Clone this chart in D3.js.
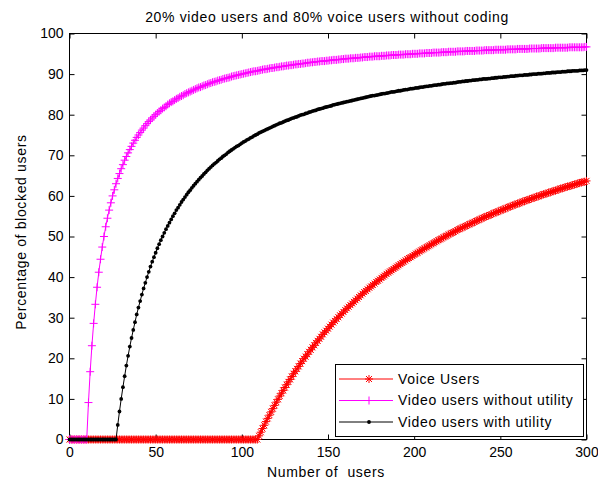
<!DOCTYPE html>
<html>
<head>
<meta charset="utf-8">
<script src="https://cdn.jsdelivr.net/npm/d3@7"></script>
<style>
  html, body { margin: 0; padding: 0; background: #fff; }
  svg { display: block; font-family: "Liberation Sans", Arial, sans-serif; }
  text { fill: #000; }
</style>
</head>
<body>
<svg id="chart" width="598" height="483"></svg>
<script>
// Number of users on the horizontal axis (0 .. 300, step 1)
const users = d3.range(0, 301);

// Blocking percentage, voice users
const voiceUsers = [
  0,0,0,0,0,0,0,0,0,0,
  0,0,0,0,0,0,0,0,0,0,
  0,0,0,0,0,0,0,0,0,0,
  0,0,0,0,0,0,0,0,0,0,
  0,0,0,0,0,0,0,0,0,0,
  0,0,0,0,0,0,0,0,0,0,
  0,0,0,0,0,0,0,0,0,0,
  0,0,0,0,0,0,0,0,0,0,
  0,0,0,0,0,0,0,0,0,0,
  0,0,0,0,0,0,0,0,0,0,
  0,0,0,0,0,0,0,0,0,0,
  0.9,1.8,2.7,3.5,4.4,5.2,6.0,6.8,7.6,8.4,
  9.2,9.9,10.7,11.4,12.1,12.8,13.5,14.2,14.8,15.5,
  16.2,16.8,17.4,18.0,18.7,19.3,19.9,20.4,21.0,21.6,
  22.1,22.7,23.2,23.8,24.3,24.8,25.3,25.9,26.4,26.8,
  27.3,27.8,28.3,28.8,29.2,29.7,30.1,30.6,31.0,31.4,
  31.9,32.3,32.7,33.1,33.5,33.9,34.3,34.7,35.1,35.5,
  35.9,36.3,36.6,37.0,37.4,37.7,38.1,38.4,38.8,39.1,
  39.4,39.8,40.1,40.4,40.8,41.1,41.4,41.7,42.0,42.3,
  42.6,42.9,43.2,43.5,43.8,44.1,44.4,44.7,44.9,45.2,
  45.5,45.8,46.0,46.3,46.6,46.8,47.1,47.3,47.6,47.8,
  48.1,48.3,48.6,48.8,49.1,49.3,49.5,49.8,50.0,50.2,
  50.5,50.7,50.9,51.1,51.3,51.6,51.8,52.0,52.2,52.4,
  52.6,52.8,53.0,53.2,53.4,53.6,53.8,54.0,54.2,54.4,
  54.6,54.8,55.0,55.1,55.3,55.5,55.7,55.9,56.0,56.2,
  56.4,56.6,56.7,56.9,57.1,57.3,57.4,57.6,57.8,57.9,
  58.1,58.2,58.4,58.6,58.7,58.9,59.0,59.2,59.3,59.5,
  59.6,59.8,59.9,60.1,60.2,60.4,60.5,60.6,60.8,60.9,
  61.1,61.2,61.3,61.5,61.6,61.8,61.9,62.0,62.2,62.3,
  62.4,62.5,62.7,62.8,62.9,63.1,63.2,63.3,63.4,63.5,
  63.7
];

// Blocking percentage, video users without utility
const videoWithoutUtility = [
  0,0,0,0,0,0,0,0,0,0,
  0,9.1,16.7,23.1,28.6,33.3,37.5,41.2,44.4,47.4,
  50.0,52.4,54.5,56.5,58.3,60.0,61.5,63.0,64.3,65.5,
  66.7,67.7,68.8,69.7,70.6,71.4,72.2,73.0,73.7,74.4,
  75.0,75.6,76.2,76.7,77.3,77.8,78.3,78.7,79.2,79.6,
  80.0,80.4,80.8,81.1,81.5,81.8,82.1,82.5,82.8,83.1,
  83.3,83.6,83.9,84.1,84.4,84.6,84.8,85.1,85.3,85.5,
  85.7,85.9,86.1,86.3,86.5,86.7,86.8,87.0,87.2,87.3,
  87.5,87.7,87.8,88.0,88.1,88.2,88.4,88.5,88.6,88.8,
  88.9,89.0,89.1,89.2,89.4,89.5,89.6,89.7,89.8,89.9,
  90.0,90.1,90.2,90.3,90.4,90.5,90.6,90.7,90.7,90.8,
  90.9,91.0,91.1,91.2,91.2,91.3,91.4,91.5,91.5,91.6,
  91.7,91.7,91.8,91.9,91.9,92.0,92.1,92.1,92.2,92.2,
  92.3,92.4,92.4,92.5,92.5,92.6,92.6,92.7,92.8,92.8,
  92.9,92.9,93.0,93.0,93.1,93.1,93.2,93.2,93.2,93.3,
  93.3,93.4,93.4,93.5,93.5,93.5,93.6,93.6,93.7,93.7,
  93.8,93.8,93.8,93.9,93.9,93.9,94.0,94.0,94.0,94.1,
  94.1,94.2,94.2,94.2,94.3,94.3,94.3,94.4,94.4,94.4,
  94.4,94.5,94.5,94.5,94.6,94.6,94.6,94.7,94.7,94.7,
  94.7,94.8,94.8,94.8,94.8,94.9,94.9,94.9,94.9,95.0,
  95.0,95.0,95.0,95.1,95.1,95.1,95.1,95.2,95.2,95.2,
  95.2,95.3,95.3,95.3,95.3,95.3,95.4,95.4,95.4,95.4,
  95.5,95.5,95.5,95.5,95.5,95.6,95.6,95.6,95.6,95.6,
  95.7,95.7,95.7,95.7,95.7,95.7,95.8,95.8,95.8,95.8,
  95.8,95.9,95.9,95.9,95.9,95.9,95.9,96.0,96.0,96.0,
  96.0,96.0,96.0,96.0,96.1,96.1,96.1,96.1,96.1,96.1,
  96.2,96.2,96.2,96.2,96.2,96.2,96.2,96.3,96.3,96.3,
  96.3,96.3,96.3,96.3,96.4,96.4,96.4,96.4,96.4,96.4,
  96.4,96.4,96.5,96.5,96.5,96.5,96.5,96.5,96.5,96.5,
  96.6,96.6,96.6,96.6,96.6,96.6,96.6,96.6,96.6,96.7,
  96.7
];

// Blocking percentage, video users with utility
const videoWithUtility = [
  0,0,0,0,0,0,0,0,0,0,
  0,0,0,0,0,0,0,0,0,0,
  0,0,0,0,0,0,0,0,3.6,6.9,
  10.0,12.9,15.6,18.2,20.6,22.9,25.0,27.0,28.9,30.8,
  32.5,34.1,35.7,37.2,38.6,40.0,41.3,42.6,43.8,44.9,
  46.0,47.1,48.1,49.1,50.0,50.9,51.8,52.6,53.4,54.2,
  55.0,55.7,56.5,57.1,57.8,58.5,59.1,59.7,60.3,60.9,
  61.4,62.0,62.5,63.0,63.5,64.0,64.5,64.9,65.4,65.8,
  66.3,66.7,67.1,67.5,67.9,68.2,68.6,69.0,69.3,69.7,
  70.0,70.3,70.7,71.0,71.3,71.6,71.9,72.2,72.4,72.7,
  73.0,73.3,73.5,73.8,74.0,74.3,74.5,74.8,75.0,75.2,
  75.5,75.7,75.9,76.1,76.3,76.5,76.7,76.9,77.1,77.3,
  77.5,77.7,77.9,78.0,78.2,78.4,78.6,78.7,78.9,79.1,
  79.2,79.4,79.5,79.7,79.9,80.0,80.1,80.3,80.4,80.6,
  80.7,80.9,81.0,81.1,81.3,81.4,81.5,81.6,81.8,81.9,
  82.0,82.1,82.2,82.4,82.5,82.6,82.7,82.8,82.9,83.0,
  83.1,83.2,83.3,83.4,83.5,83.6,83.7,83.8,83.9,84.0,
  84.1,84.2,84.3,84.4,84.5,84.6,84.7,84.7,84.8,84.9,
  85.0,85.1,85.2,85.2,85.3,85.4,85.5,85.6,85.6,85.7,
  85.8,85.9,85.9,86.0,86.1,86.2,86.2,86.3,86.4,86.4,
  86.5,86.6,86.6,86.7,86.8,86.8,86.9,87.0,87.0,87.1,
  87.1,87.2,87.3,87.3,87.4,87.4,87.5,87.6,87.6,87.7,
  87.7,87.8,87.8,87.9,87.9,88.0,88.1,88.1,88.2,88.2,
  88.3,88.3,88.4,88.4,88.5,88.5,88.6,88.6,88.7,88.7,
  88.8,88.8,88.8,88.9,88.9,89.0,89.0,89.1,89.1,89.2,
  89.2,89.2,89.3,89.3,89.4,89.4,89.5,89.5,89.5,89.6,
  89.6,89.7,89.7,89.7,89.8,89.8,89.8,89.9,89.9,90.0,
  90.0,90.0,90.1,90.1,90.1,90.2,90.2,90.3,90.3,90.3,
  90.4,90.4,90.4,90.5,90.5,90.5,90.6,90.6,90.6,90.7,
  90.7,90.7,90.8,90.8,90.8,90.8,90.9,90.9,90.9,91.0,
  91.0
];

const xTicks = [0, 50, 100, 150, 200, 250, 300];
const yTicks = [0, 10, 20, 30, 40, 50, 60, 70, 80, 90, 100];
const seriesNames = ["Voice Users", "Video users without utility", "Video users with utility"];

const titleText = "20% video users and 80% voice users without coding";
const xLabelText = "Number of  users";
const yLabelText = "Percentage of blocked users";

// ---- layout ----
const svg = d3.select("#chart");
const plotLeft = 69.5, plotRight = 586.5, plotTop = 33.5, plotBottom = 439.5;

const x = d3.scaleLinear().domain([0, 300]).range([plotLeft, plotRight]);
const y = d3.scaleLinear().domain([0, 100]).range([plotBottom, plotTop]);

const fontSize = 14;
const labelSpacing = "0.66px";

// marker shapes
const plusPath = "M-4,0H4M0,-4V4";
const starPath = "M-4,0H4M0,-4V4M-3,-3L3,3M-3,3L3,-3";

const series = [
  { name: seriesNames[0], values: voiceUsers, color: "#ff0000", marker: "star" },
  { name: seriesNames[1], values: videoWithoutUtility, color: "#ff00ff", marker: "plus" },
  { name: seriesNames[2], values: videoWithUtility, color: "#000000", marker: "dot" }
];

// ---- axes ----
function styleAxis(g) {
  g.select(".domain").remove();
  g.selectAll(".tick line").attr("stroke", "#000").attr("stroke-width", 1);
  g.selectAll(".tick text")
    .attr("font-size", fontSize)
    .attr("font-family", "Liberation Sans, Arial, sans-serif")
    .attr("fill", "#000");
}

svg.append("g")
  .attr("transform", `translate(0,${plotBottom})`)
  .call(d3.axisBottom(x).tickValues(xTicks).tickSize(-5).tickPadding(7.5).tickFormat(d3.format("d")))
  .call(styleAxis);

svg.append("g")
  .attr("transform", `translate(0,${plotTop})`)
  .call(d3.axisTop(x).tickValues(xTicks).tickSize(-5).tickFormat(""))
  .call(styleAxis);

svg.append("g")
  .attr("transform", `translate(${plotLeft},0)`)
  .call(d3.axisLeft(y).tickValues(yTicks).tickSize(-5).tickPadding(6).tickFormat(d3.format("d")))
  .call(styleAxis);

svg.append("g")
  .attr("transform", `translate(${plotRight},0)`)
  .call(d3.axisRight(y).tickValues(yTicks).tickSize(-5).tickFormat(""))
  .call(styleAxis);

// plot frame
svg.append("rect")
  .attr("x", plotLeft).attr("y", plotTop)
  .attr("width", plotRight - plotLeft).attr("height", plotBottom - plotTop)
  .attr("fill", "none").attr("stroke", "#000").attr("stroke-width", 1);

// ---- series ----
const line = d3.line().x((d, i) => x(users[i])).y(d => y(d));

function drawMarkers(g, pts, s) {
  if (s.marker === "dot") {
    g.selectAll("circle").data(pts).join("circle")
      .attr("cx", d => d[0]).attr("cy", d => d[1])
      .attr("r", 1.9).attr("fill", s.color);
  } else {
    g.selectAll("path").data(pts).join("path")
      .attr("transform", d => `translate(${d[0]},${d[1]})`)
      .attr("d", s.marker === "plus" ? plusPath : starPath)
      .attr("fill", "none").attr("stroke", s.color).attr("stroke-width", 1);
  }
}

series.forEach(s => {
  const g = svg.append("g").attr("class", "series");
  g.append("path")
    .attr("d", line(s.values))
    .attr("fill", "none").attr("stroke", s.color).attr("stroke-width", 1);
  const pts = s.values.map((v, i) => [x(users[i]), y(v)]);
  drawMarkers(g.append("g"), pts, s);
});

// ---- title and axis labels ----
svg.append("text")
  .attr("x", 327).attr("y", 21.5)
  .attr("text-anchor", "middle").attr("font-size", fontSize)
  .attr("letter-spacing", labelSpacing)
  .text(titleText);

svg.append("text")
  .attr("x", 326).attr("y", 476.5)
  .attr("text-anchor", "middle").attr("font-size", fontSize)
  .attr("letter-spacing", labelSpacing)
  .style("white-space", "pre")
  .text(xLabelText);

svg.append("text")
  .attr("transform", `translate(26,232) rotate(-90)`)
  .attr("text-anchor", "middle").attr("font-size", fontSize)
  .attr("letter-spacing", labelSpacing)
  .text(yLabelText);

// ---- legend ----
const lg = svg.append("g");
lg.append("rect")
  .attr("x", 335.5).attr("y", 364.5).attr("width", 248).attr("height", 72)
  .attr("fill", "#fff").attr("stroke", "#000").attr("stroke-width", 1);

const rowY = d3.scalePoint().domain(seriesNames).range([379, 422]);
series.forEach(s => {
  const yy = rowY(s.name);
  const row = lg.append("g");
  row.append("line")
    .attr("x1", 339).attr("x2", 393).attr("y1", yy).attr("y2", yy)
    .attr("stroke", s.color).attr("stroke-width", 1);
  drawMarkers(row, [[369, yy]], s);
  row.append("text")
    .attr("x", 398).attr("y", yy).attr("dy", "0.35em")
    .attr("font-size", fontSize)
    .attr("letter-spacing", labelSpacing)
    .text(s.name);
});
</script>
</body>
</html>
